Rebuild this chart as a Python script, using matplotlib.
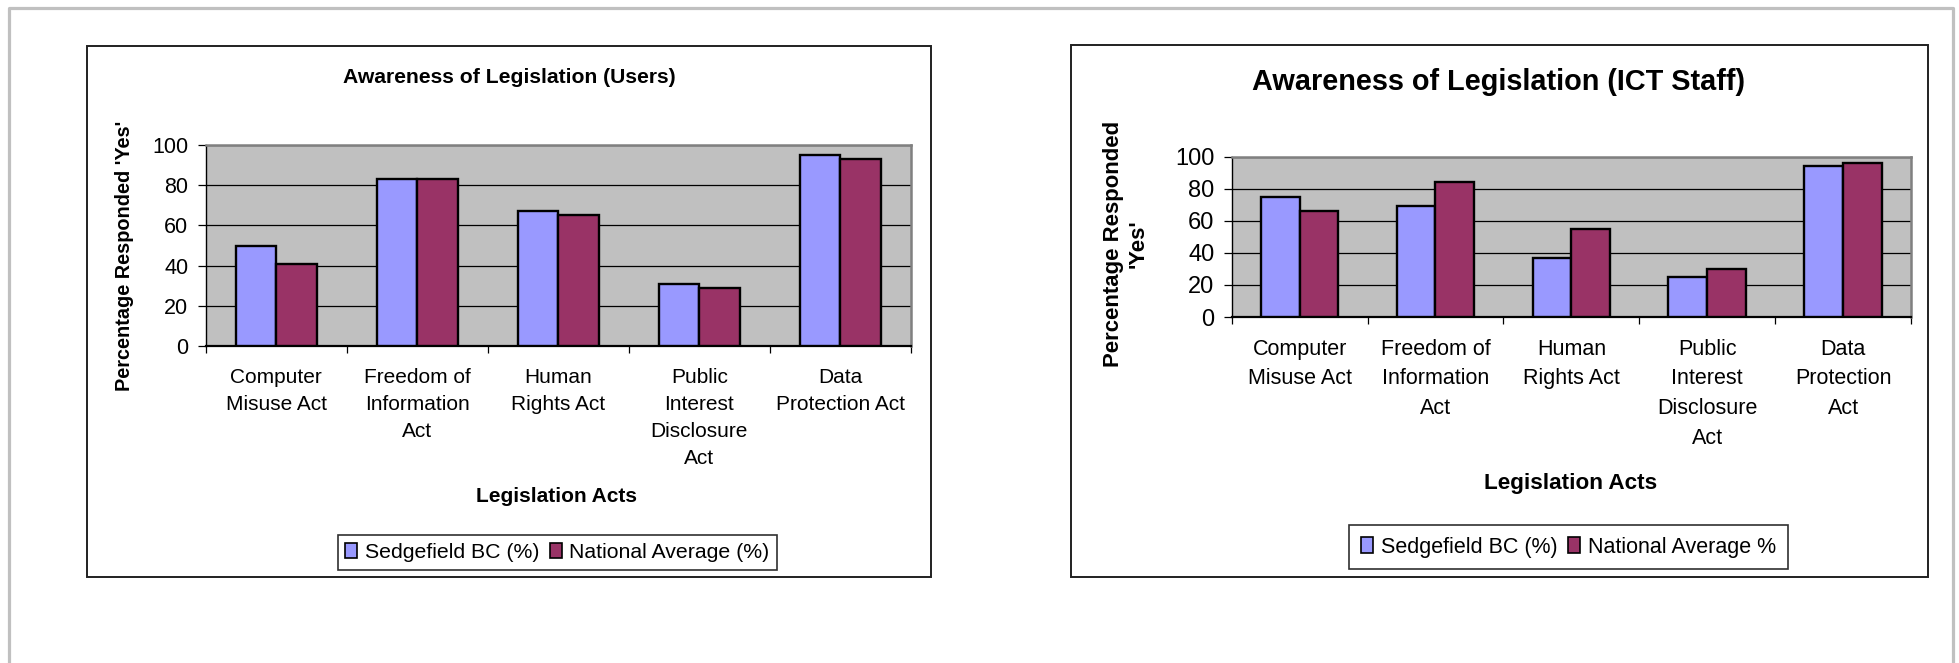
import matplotlib
matplotlib.use("Agg")
import matplotlib.pyplot as plt
from matplotlib.patches import Rectangle, Patch
from matplotlib.lines import Line2D
import numpy as np

plt.rcParams['font.family'] = ['Liberation Sans', 'DejaVu Sans']

# ---------------- data ----------------
users_categories = ["Computer\nMisuse Act", "Freedom of\nInformation\nAct", "Human\nRights Act",
                    "Public\nInterest\nDisclosure\nAct", "Data\nProtection Act"]
users_sedgefield = [50, 83, 67, 31, 95]
users_national = [41, 83, 65, 29, 93]

ict_categories = ["Computer\nMisuse Act", "Freedom of\nInformation\nAct", "Human\nRights Act",
                  "Public\nInterest\nDisclosure\nAct", "Data\nProtection\nAct"]
ict_sedgefield = [75, 69, 37, 25, 94]
ict_national = [66, 84, 55, 30, 96]

y_ticks = [0, 20, 40, 60, 80, 100]

users_title = "Awareness of Legislation (Users)"
ict_title = "Awareness of Legislation (ICT Staff)"
x_title = "Legislation Acts"
users_ylabel = "Percentage Responded 'Yes'"
ict_ylabel = "Percentage Responded\n'Yes'"
users_legend = ["Sedgefield BC (%)", "National Average (%)"]
ict_legend = ["Sedgefield BC (%)", "National Average %"]

# ---------------- style ----------------
W, H = 1959, 663
BLUE = "#9999FF"
PLUM = "#993366"
PLOT_BG = "#C0C0C0"

fig = plt.figure(figsize=(W / 100, H / 100), dpi=100)
fig.patch.set_facecolor("white")


def fx(x):
    return x / W


def fy(y):
    return 1 - y / H


def add_rect(x0, y0, x1, y1, color, lw):
    fig.patches.append(Rectangle((fx(x0), fy(y1)), fx(x1) - fx(x0), fy(y0) - fy(y1),
                                 transform=fig.transFigure, fill=False,
                                 edgecolor=color, linewidth=lw, zorder=0))


def add_line(xs, ys, color, lw):
    fig.add_artist(Line2D([fx(v) for v in xs], [fy(v) for v in ys],
                          transform=fig.transFigure, color=color, linewidth=lw))


# page frame (light grey, open at bottom)
add_line([8.5, 8.5, 1953, 1953], [H + 5, 8, 8, H + 5], "#C0C0C0", 2.3)

# chart frames
add_rect(87, 46, 931, 577, "#202020", 1.4)
add_rect(1071, 45, 1928, 577, "#202020", 1.4)


def draw_chart(box, cats, s1, s2, xlab_size, ytick_size, lsp, xpad):
    x0, y0, x1, y1 = box
    ax = fig.add_axes([fx(x0), fy(y1), fx(x1) - fx(x0), fy(y0) - fy(y1)])
    ax.set_facecolor(PLOT_BG)
    n = len(cats)
    x = np.arange(n)
    w = 1 / 3.5
    ax.bar(x - w / 2, s1, width=w, color=BLUE, edgecolor="black", linewidth=1.7, zorder=3)
    ax.bar(x + w / 2, s2, width=w, color=PLUM, edgecolor="black", linewidth=1.7, zorder=3)
    ax.set_xlim(-0.5, n - 0.5)
    ax.set_ylim(0, 100)
    ax.set_yticks(y_ticks)
    ax.set_yticklabels([str(v) for v in y_ticks], fontsize=ytick_size)
    ax.yaxis.grid(True, color="black", linewidth=0.9, zorder=0)
    ax.set_axisbelow(True)
    ax.set_xticks(x)
    ax.set_xticklabels(cats, fontsize=xlab_size, linespacing=lsp)
    ax.set_xticks(np.arange(-0.5, n, 1), minor=True)
    ax.tick_params(axis="x", which="major", length=0, pad=xpad)
    ax.tick_params(axis="x", which="minor", length=5, width=0.9, color="black", direction="out")
    ax.tick_params(axis="y", length=5.5, width=0.9, color="black", pad=7, direction="out")
    for side in ("top", "right"):
        ax.spines[side].set_color("#808080")
        ax.spines[side].set_linewidth(1.8)
    ax.spines["left"].set_color("black")
    ax.spines["left"].set_linewidth(1.0)
    ax.spines["bottom"].set_color("black")
    ax.spines["bottom"].set_linewidth(1.6)
    return ax


ax1 = draw_chart((205.7, 145, 911, 346), users_categories, users_sedgefield, users_national,
                 15, 15.5, 1.52, 16)
ax2 = draw_chart((1231.7, 156.7, 1911, 317), ict_categories, ict_sedgefield, ict_national,
                 15.5, 17, 1.56, 15.5)

# titles
fig.text(fx(509), fy(77.5), users_title, ha="center", va="center", fontsize=15.2, fontweight="bold")
fig.text(fx(1499), fy(82), ict_title, ha="center", va="center", fontsize=20.8, fontweight="bold")

# x titles
fig.text(fx(557), fy(496), x_title, ha="center", va="center", fontsize=15, fontweight="bold")
fig.text(fx(1571), fy(483), x_title, ha="center", va="center", fontsize=16.2, fontweight="bold")

# y titles
fig.text(fx(125), fy(255.5), users_ylabel, ha="center", va="center", rotation=90,
         fontsize=14.3, fontweight="bold")
fig.text(fx(1126), fy(243.6), ict_ylabel, ha="center", va="center", rotation=90,
         fontsize=15.9, fontweight="bold", multialignment="center", linespacing=1.2)

# legends
for labels, cx, cy, fs, bp in ((users_legend, 557.5, 552.5, 15.3, 0.35),
                               (ict_legend, 1568.5, 547, 15.5, 0.55)):
    handles = [Patch(facecolor=BLUE, edgecolor="black", linewidth=1.2),
               Patch(facecolor=PLUM, edgecolor="black", linewidth=1.2)]
    leg = fig.legend(handles, labels, loc="center", bbox_to_anchor=(fx(cx), fy(cy)),
                     ncol=2, fontsize=fs, frameon=True, fancybox=False, framealpha=1,
                     edgecolor="#303030", borderpad=bp, handlelength=0.55, handleheight=0.75,
                     handletextpad=0.36, columnspacing=0.5, borderaxespad=0)
    leg.get_frame().set_linewidth(1.2)

fig.savefig("out.png", dpi=100, facecolor="white")
